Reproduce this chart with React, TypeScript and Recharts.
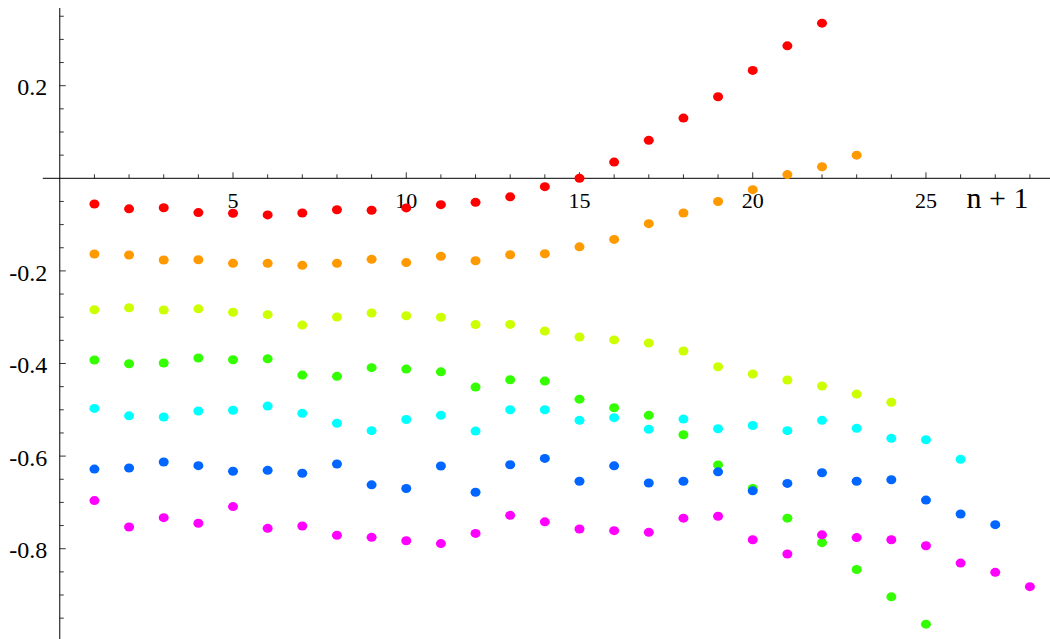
import React from "react";
import { ScatterChart, Scatter, XAxis, YAxis, ReferenceLine, ReferenceDot } from "recharts";

const N = [1, 2, 3, 4, 5, 6, 7, 8, 9, 10, 11, 12, 13, 14, 15, 16, 17, 18, 19, 20, 21, 22, 23, 24, 25, 26, 27, 28];

const red = [-0.0555, -0.066, -0.0635, -0.074, -0.0756, -0.079, -0.075, -0.068, -0.069, -0.064, -0.057, -0.052, -0.04, -0.018, 0.0, 0.035, 0.082, 0.13, 0.176, 0.233, 0.286, 0.335];
const orange = [-0.1635, -0.1657, -0.1765, -0.176, -0.1836, -0.1836, -0.188, -0.1836, -0.175, -0.182, -0.1685, -0.178, -0.165, -0.163, -0.148, -0.132, -0.098, -0.075, -0.05, -0.0246, 0.008, 0.025, 0.05];
const yellow = [-0.284, -0.2795, -0.2845, -0.282, -0.2894, -0.2945, -0.317, -0.2996, -0.291, -0.2968, -0.3, -0.316, -0.3155, -0.33, -0.3428, -0.349, -0.3557, -0.373, -0.407, -0.4227, -0.4357, -0.4486, -0.466, -0.4838];
const lime = [-0.3925, -0.4005, -0.399, -0.388, -0.392, -0.39, -0.425, -0.4277, -0.409, -0.412, -0.418, -0.451, -0.435, -0.438, -0.477, -0.4955, -0.512, -0.5538, -0.619, -0.67, -0.734, -0.787, -0.845, -0.904, -0.963];
const cyan = [-0.497, -0.513, -0.5156, -0.5026, -0.501, -0.492, -0.5076, -0.529, -0.545, -0.521, -0.512, -0.546, -0.4998, -0.4998, -0.5227, -0.517, -0.542, -0.52, -0.541, -0.534, -0.545, -0.5227, -0.54, -0.5616, -0.5646, -0.607];
const blue = [-0.628, -0.6257, -0.6127, -0.6207, -0.6328, -0.6307, -0.637, -0.617, -0.662, -0.67, -0.6214, -0.678, -0.6186, -0.605, -0.6544, -0.621, -0.658, -0.6544, -0.634, -0.675, -0.659, -0.636, -0.6544, -0.651, -0.695, -0.725, -0.748];
const magenta = [-0.696, -0.753, -0.733, -0.745, -0.709, -0.756, -0.751, -0.771, -0.7754, -0.7827, -0.789, -0.767, -0.728, -0.742, -0.7575, -0.761, -0.7646, -0.734, -0.73, -0.7806, -0.8115, -0.77, -0.776, -0.7806, -0.7935, -0.831, -0.851, -0.882];

const seriesValues = [red, orange, yellow, lime, cyan, blue, magenta];
const seriesColors = ["#ff0000", "#ff9900", "#ccff00", "#33ff00", "#00ffff", "#0066ff", "#ff00ff"];

const xMajorTicks = [5, 10, 15, 20, 25];
const xMinorTicks = [1, 2, 3, 4, 6, 7, 8, 9, 11, 12, 13, 14, 16, 17, 18, 19, 21, 22, 23, 24, 26, 27, 28];
const yMajorTicks = [0.2, -0.2, -0.4, -0.6, -0.8];
const yMajorLabels = ["0.2", "-0.2", "-0.4", "-0.6", "-0.8"];
const yMinorTicks = [0.35, 0.3, 0.25, 0.15, 0.1, 0.05, -0.05, -0.1, -0.15, -0.25, -0.3, -0.35, -0.45, -0.5, -0.55, -0.65, -0.7, -0.75, -0.85, -0.9, -0.95];
const xAxisLabel = "n + 1";

const X_DOMAIN = [-0.49, 28.58];
const Y_DOMAIN = [-0.995, 0.3678];

const textStyle = { fontFamily: '"Liberation Serif", "DejaVu Serif", "Times New Roman", serif' };

const toPoints = (vals: number[]) => vals.map((v, i) => ({ x: N[i], y: v }));

const dotShape = (color: string) => (p: any) => (
  <ellipse cx={p.cx} cy={p.cy} rx={5} ry={4.5} fill={color} />
);

const xTickShape = (len: number, label?: string) => (p: any) => (
  <g>
    <line x1={p.cx} y1={p.cy} x2={p.cx} y2={p.cy - len} stroke="#000" strokeWidth={0.8} />
    {label ? (
      <text x={p.cx} y={p.cy + 30} textAnchor="middle" style={textStyle} fontSize={22} fill="#000">
        {label}
      </text>
    ) : null}
  </g>
);

const yTickShape = (len: number, label?: string) => (p: any) => (
  <g>
    <line x1={p.cx} y1={p.cy} x2={p.cx + len} y2={p.cy} stroke="#000" strokeWidth={0.8} />
    {label ? (
      <text x={p.cx - 12.5} y={p.cy} dy="0.4em" textAnchor="end" style={textStyle} fontSize={24} fill="#000">
        {label}
      </text>
    ) : null}
  </g>
);

const axisLabelShape = (p: any) => (
  <text x={p.cx - 21.5} y={p.cy + 30} textAnchor="end" style={textStyle} fontSize={30} fill="#000">
    {xAxisLabel}
  </text>
);

export default function App() {
  return (
    <div style={{ position: "absolute", left: 0, top: 0, width: 1050, height: 639, background: "#fff" }}>
      <ScatterChart width={1050} height={639} margin={{ top: 8, right: 0, bottom: 0, left: 42.8 }}>
        <XAxis type="number" dataKey="x" domain={X_DOMAIN} hide allowDataOverflow />
        <YAxis type="number" dataKey="y" domain={Y_DOMAIN} hide allowDataOverflow />
        <ReferenceLine y={0} stroke="#000" strokeWidth={1} ifOverflow="visible" />
        <ReferenceLine x={0} stroke="#000" strokeWidth={1} ifOverflow="visible" />
        {xMinorTicks.map((t) => (
          <ReferenceDot key={"xm" + t} x={t} y={0} ifOverflow="visible" shape={xTickShape(4)} />
        ))}
        {xMajorTicks.map((t) => (
          <ReferenceDot key={"xM" + t} x={t} y={0} ifOverflow="visible" shape={xTickShape(6, String(t))} />
        ))}
        {yMinorTicks.map((t) => (
          <ReferenceDot key={"ym" + t} x={0} y={t} ifOverflow="visible" shape={yTickShape(4)} />
        ))}
        {yMajorTicks.map((t, i) => (
          <ReferenceDot key={"yM" + t} x={0} y={t} ifOverflow="visible" shape={yTickShape(6, yMajorLabels[i])} />
        ))}
        <ReferenceDot x={X_DOMAIN[1]} y={0} ifOverflow="visible" shape={axisLabelShape} />
        {seriesValues.map((vals, i) => (
          <Scatter
            key={"s" + i}
            data={toPoints(vals)}
            fill={seriesColors[i]}
            shape={dotShape(seriesColors[i])}
            isAnimationActive={false}
          />
        ))}
      </ScatterChart>
    </div>
  );
}
